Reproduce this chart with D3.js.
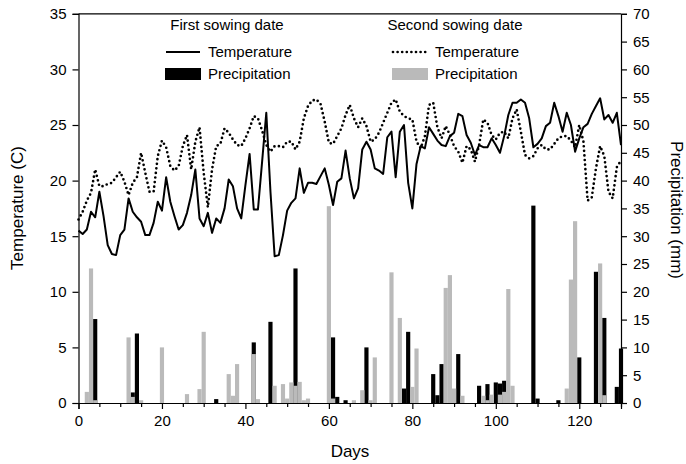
<!DOCTYPE html>
<html>
<head>
<meta charset="utf-8">
<script src="https://cdn.jsdelivr.net/npm/d3@7"></script>
<style>
  body { margin: 0; background: #fff; }
  svg text { font-family: "Liberation Sans", Arial, sans-serif; fill: #000; }
</style>
</head>
<body>
<script>
// daily mean temperature, days 0..130
var tempFirst = [15.5,15.2,15.6,17.2,16.7,19.0,16.8,14.2,13.4,13.3,15.1,15.6,18.4,17.2,16.7,16.3,15.1,15.1,16.2,18.1,
  17.3,20.3,18.1,16.8,15.6,16.0,17.1,18.7,21.0,16.6,15.9,17.1,15.3,16.6,16.2,17.5,20.1,19.5,17.5,16.6,
  19.6,22.4,17.4,17.4,21.7,26.1,19.0,13.2,13.3,15.1,17.3,18.0,18.4,21.1,18.9,19.8,19.8,19.7,20.4,21.1,
  19.6,17.8,19.9,20.2,22.7,20.2,18.4,19.3,22.8,23.5,22.8,21.1,20.9,20.6,23.9,24.4,20.3,24.4,25.0,19.8,
  17.5,21.5,23.1,22.9,24.8,24.2,23.6,23.2,23.1,24.0,24.3,26.0,25.8,24.1,23.4,22.3,23.2,23.0,23.0,23.8,
  23.2,22.5,24.0,25.9,27.0,27.0,27.3,27.0,25.6,23.0,23.3,23.8,24.9,25.2,27.0,25.8,24.4,26.1,25.0,22.6,
  23.8,24.8,25.1,26.0,26.7,27.4,25.5,25.9,25.2,26.1,23.2];
var tempSecond = [16.5,17.2,18.2,18.9,21.0,19.5,19.5,19.7,19.8,20.3,20.8,19.9,18.7,19.8,20.3,22.5,20.7,19.0,19.0,22.2,
  23.6,23.0,21.3,20.9,21.3,23.1,24.1,21.0,23.5,24.8,20.7,17.6,21.0,23.1,23.3,24.7,24.3,23.7,23.2,23.1,
  23.8,24.7,25.8,25.6,24.5,23.2,22.6,23.1,23.1,23.0,23.5,23.5,22.8,23.5,25.6,26.7,27.2,27.3,26.9,25.3,
  23.4,23.3,24.0,24.7,25.9,26.8,25.6,24.8,25.6,24.9,23.5,23.7,24.3,25.2,26.1,27.0,27.3,26.2,25.8,25.6,
  25.5,23.5,22.9,24.0,26.8,27.0,24.8,23.8,24.9,24.1,23.1,22.6,21.6,23.1,22.8,21.7,23.2,25.5,25.2,24.1,
  23.7,24.3,24.4,23.8,25.6,26.4,24.4,22.3,22.0,22.2,22.9,23.2,22.8,22.8,23.3,23.8,24.0,24.0,23.6,23.0,
  25.0,23.5,18.2,18.5,21.1,23.1,22.2,19.0,18.4,21.2,21.8];

// precipitation (mm), rainy days only
var rainDaysFirst = [4,13,14,33,42,46,52,61,62,64,69,78,79,85,86,87,91,96,98,100,101,102,109,110,115,120,124,126,129,130];
var rainFirst     = [15.1,1.9,12.5,0.7,10.9,14.6,24.2,11.8,1.1,0.5,10.0,2.6,12.8,5.2,1.4,7.0,8.8,3.1,3.4,3.7,3.5,4.0,35.5,0.8,0.5,8.2,23.6,15.3,2.9,9.8];
var rainDaysSecond = [2,3,4,12,13,15,20,26,29,30,36,37,38,42,43,47,49,50,51,52,53,54,55,60,61,66,68,70,71,75,77,80,81,88,89,90,92,97,98,99,101,102,103,104,117,118,119,125,126];
var rainSecond     = [2.0,24.2,0.5,11.8,1.1,0.5,10.0,1.6,2.5,12.8,5.2,1.3,7.0,8.8,0.7,3.1,3.4,0.8,3.7,3.1,3.8,0.5,0.8,35.4,0.8,0.5,2.3,0.5,8.2,23.5,15.3,2.9,9.8,20.7,23.0,2.6,1.3,1.3,0.5,1.5,1.5,2.0,20.5,3.1,2.6,22.2,32.7,25.1,1.4];

var xTicks = [0,20,40,60,80,100,120];
var tempTicks = [0,5,10,15,20,25,30,35];
var rainTicks = [0,5,10,15,20,25,30,35,40,45,50,55,60,65,70];

var width = 686, height = 464;
var plotLeft = 78.5, plotRight = 621, plotTop = 13.8, plotBottom = 403;

var svg = d3.select("body").append("svg")
  .attr("width", width)
  .attr("height", height);

var x = d3.scaleLinear().domain([0, 130]).range([plotLeft, plotRight]);
var yT = d3.scaleLinear().domain([0, 35]).range([plotBottom, plotTop]);
var yP = d3.scaleLinear().domain([0, 70]).range([plotBottom, plotTop]);
var barW = x(1) - x(0);

function bars(days, vals, color) {
  svg.append("g").selectAll("rect")
    .data(days)
    .enter()
    .append("rect")
    .attr("x", function(d) { return x(d) - barW / 2; })
    .attr("width", barW)
    .attr("y", function(d, i) { return yP(vals[i]); })
    .attr("height", function(d, i) { return plotBottom - yP(vals[i]); })
    .attr("fill", color);
}
bars(rainDaysFirst, rainFirst, "#000");
bars(rainDaysSecond, rainSecond, "#bababa");

var line = d3.line()
  .x(function(d, i) { return x(i); })
  .y(function(d) { return yT(d); });

svg.append("path")
  .datum(tempSecond)
  .attr("d", line)
  .attr("fill", "none")
  .attr("stroke", "#000")
  .attr("stroke-width", 2.7)
  .attr("stroke-linecap", "round")
  .attr("stroke-dasharray", "0,4.6");

svg.append("path")
  .datum(tempFirst)
  .attr("d", line)
  .attr("fill", "none")
  .attr("stroke", "#000")
  .attr("stroke-width", 2)
  .attr("stroke-linejoin", "round");

// frame
svg.append("line").attr("x1", plotLeft).attr("x2", plotRight).attr("y1", plotTop).attr("y2", plotTop)
  .attr("stroke", "#000").attr("stroke-width", 1.2);

// axes
var minor = d3.range(0, 131, 5).filter(function(d) { return d % 20 != 0; });
var xMinor = svg.append("g").attr("transform", "translate(0," + plotBottom + ")")
  .call(d3.axisBottom(x).tickValues(minor).tickSize(4).tickFormat(""));
var xAxis = svg.append("g").attr("transform", "translate(0," + plotBottom + ")")
  .call(d3.axisBottom(x).tickValues(xTicks).tickSize(6).tickPadding(6).tickFormat(d3.format("d")));
var yLeft = svg.append("g").attr("transform", "translate(" + plotLeft + ",0)")
  .call(d3.axisLeft(yT).tickValues(tempTicks).tickSize(6).tickPadding(6));
var yRight = svg.append("g").attr("transform", "translate(" + plotRight + ",0)")
  .call(d3.axisRight(yP).tickValues(rainTicks).tickSize(6).tickPadding(6));

[xMinor, xAxis, yLeft, yRight].forEach(function(g) {
  g.select(".domain").attr("stroke", "#000").attr("stroke-width", 1.2);
  g.selectAll(".tick line").attr("stroke", "#000").attr("stroke-width", 1.2);
  g.selectAll(".tick text").style("font-size", "15px").attr("fill", "#000")
    .style("font-family", "'Liberation Sans', Arial, sans-serif");
});
xMinor.select(".domain").remove();

// axis titles
svg.append("text").attr("x", 350).attr("y", 457).attr("text-anchor", "middle")
  .style("font-size", "17px").text("Days");
svg.append("text").attr("transform", "translate(23,208) rotate(-90)").attr("text-anchor", "middle")
  .style("font-size", "17px").text("Temperature (C)");
svg.append("text").attr("transform", "translate(671,210) rotate(90)").attr("text-anchor", "middle")
  .style("font-size", "17px").text("Precipitation (mm)");

// legend
var legendItems = [
  {title: "First sowing date", tx: 227, lx: 165, color: "#000", dash: null},
  {title: "Second sowing date", tx: 455, lx: 392, color: "#bababa", dash: "0,4.6"}
];
legendItems.forEach(function(l) {
  svg.append("text").attr("x", l.tx).attr("y", 30).attr("text-anchor", "middle")
    .style("font-size", "15px").text(l.title);
  var ln = svg.append("line").attr("x1", l.lx + 1).attr("x2", l.lx + 35).attr("y1", 52).attr("y2", 52)
    .attr("stroke", "#000");
  if (l.dash) {
    ln.attr("stroke-width", 2.7).attr("stroke-linecap", "round").attr("stroke-dasharray", l.dash);
  } else {
    ln.attr("stroke-width", 2);
  }
  svg.append("text").attr("x", l.lx + 43).attr("y", 57).style("font-size", "15px").text("Temperature");
  svg.append("rect").attr("x", l.lx).attr("y", 68).attr("width", 36).attr("height", 12).attr("fill", l.color);
  svg.append("text").attr("x", l.lx + 43).attr("y", 79).style("font-size", "15px").text("Precipitation");
});
</script>
</body>
</html>
